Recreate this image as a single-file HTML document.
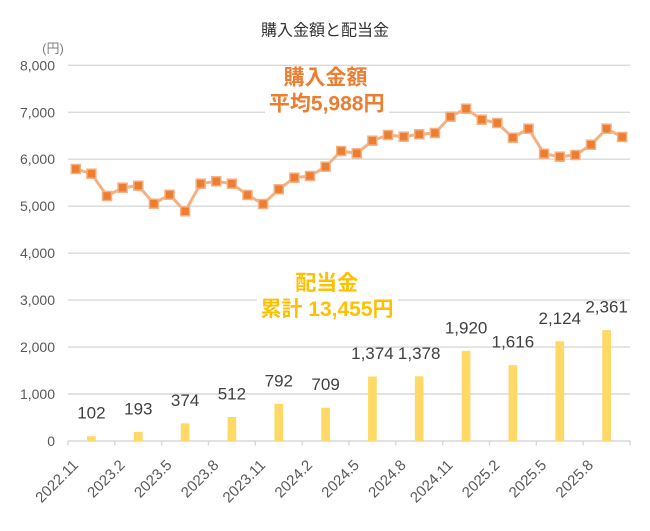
<!DOCTYPE html>
<html>
<head>
<meta charset="utf-8">
<style>
html,body{margin:0;padding:0;background:#fff;}
svg{display:block;}
text{font-family:"Liberation Sans","Noto Sans CJK JP",sans-serif;}
</style>
</head>
<body>
<svg width="650" height="531" viewBox="0 0 650 531" xmlns="http://www.w3.org/2000/svg">
<rect x="0" y="0" width="650" height="531" fill="#fff"/>

<!-- title -->
<text x="325" y="35.5" font-size="16" fill="#333" text-anchor="middle">購入金額と配当金</text>
<text x="53" y="53" font-size="13" fill="#7f7f7f" text-anchor="middle">(円)</text>

<!-- gridlines -->
<g stroke="#d9d9d9" stroke-width="1.4">
<line x1="68" y1="65.3" x2="630" y2="65.3"/>
<line x1="68" y1="112.3" x2="630" y2="112.3"/>
<line x1="68" y1="159.2" x2="630" y2="159.2"/>
<line x1="68" y1="206.2" x2="630" y2="206.2"/>
<line x1="68" y1="253.2" x2="630" y2="253.2"/>
<line x1="68" y1="300.1" x2="630" y2="300.1"/>
<line x1="68" y1="347.1" x2="630" y2="347.1"/>
<line x1="68" y1="394.0" x2="630" y2="394.0"/>
<line x1="68" y1="441" x2="630" y2="441"/>
</g>
<!-- ticks -->
<g stroke="#d9d9d9" stroke-width="1.4">
<line x1="68" y1="441" x2="68" y2="445.5"/>
<line x1="114.8" y1="441" x2="114.8" y2="445.5"/>
<line x1="161.7" y1="441" x2="161.7" y2="445.5"/>
<line x1="208.5" y1="441" x2="208.5" y2="445.5"/>
<line x1="255.3" y1="441" x2="255.3" y2="445.5"/>
<line x1="302.2" y1="441" x2="302.2" y2="445.5"/>
<line x1="349.0" y1="441" x2="349.0" y2="445.5"/>
<line x1="395.8" y1="441" x2="395.8" y2="445.5"/>
<line x1="442.7" y1="441" x2="442.7" y2="445.5"/>
<line x1="489.5" y1="441" x2="489.5" y2="445.5"/>
<line x1="536.3" y1="441" x2="536.3" y2="445.5"/>
<line x1="583.2" y1="441" x2="583.2" y2="445.5"/>
<line x1="630" y1="441" x2="630" y2="445.5"/>
</g>

<!-- y labels -->
<g font-size="14" fill="#595959" text-anchor="end">
<text x="55" y="70.3">8,000</text>
<text x="55" y="117.3">7,000</text>
<text x="55" y="164.2">6,000</text>
<text x="55" y="211.2">5,000</text>
<text x="55" y="258.2">4,000</text>
<text x="55" y="305.1">3,000</text>
<text x="55" y="352.1">2,000</text>
<text x="55" y="399.0">1,000</text>
<text x="55" y="446">0</text>
</g>

<!-- x labels -->
<g font-size="15" fill="#595959" text-anchor="end">
<text transform="translate(79,466) rotate(-45)">2022.11</text>
<text transform="translate(125.8,466) rotate(-45)">2023.2</text>
<text transform="translate(172.7,466) rotate(-45)">2023.5</text>
<text transform="translate(219.5,466) rotate(-45)">2023.8</text>
<text transform="translate(266.3,466) rotate(-45)">2023.11</text>
<text transform="translate(313.2,466) rotate(-45)">2024.2</text>
<text transform="translate(360,466) rotate(-45)">2024.5</text>
<text transform="translate(406.8,466) rotate(-45)">2024.8</text>
<text transform="translate(453.7,466) rotate(-45)">2024.11</text>
<text transform="translate(500.5,466) rotate(-45)">2025.2</text>
<text transform="translate(547.3,466) rotate(-45)">2025.5</text>
<text transform="translate(594.2,466) rotate(-45)">2025.8</text>
</g>

<!-- bars -->
<g fill="#FFD966">
<rect x="87.05" y="436.2" width="8.7" height="4.8"/>
<rect x="133.95" y="431.9" width="8.7" height="9.1"/>
<rect x="180.75" y="423.4" width="8.7" height="17.6"/>
<rect x="227.55" y="417.0" width="8.7" height="24.0"/>
<rect x="274.45" y="403.8" width="8.7" height="37.2"/>
<rect x="321.25" y="407.7" width="8.7" height="33.3"/>
<rect x="368.05" y="376.5" width="8.7" height="64.5"/>
<rect x="414.85" y="376.3" width="8.7" height="64.7"/>
<rect x="461.75" y="350.8" width="8.7" height="90.2"/>
<rect x="508.55" y="365.1" width="8.7" height="75.9"/>
<rect x="555.45" y="341.3" width="8.7" height="99.7"/>
<rect x="602.25" y="330.1" width="8.7" height="110.9"/>
</g>

<!-- bar labels -->
<g font-size="17" fill="#404040" text-anchor="middle">
<text x="91.4" y="418.7">102</text>
<text x="138.3" y="414.4">193</text>
<text x="185.1" y="405.9">374</text>
<text x="231.9" y="399.5">512</text>
<text x="278.8" y="386.3">792</text>
<text x="325.6" y="390.2">709</text>
<text x="372.4" y="359.0">1,374</text>
<text x="419.2" y="358.8">1,378</text>
<text x="466.1" y="333.3">1,920</text>
<text x="512.9" y="347.6">1,616</text>
<text x="559.8" y="323.8">2,124</text>
<text x="606.6" y="312.6">2,361</text>
</g>

<!-- line series -->
<polyline fill="none" stroke="#F4B183" stroke-width="3" stroke-linejoin="round" points="75.8,169 91.4,173.7 107.0,196 122.6,187.7 138.3,185.7 153.9,203.7 169.5,194.7 185.1,211.3 200.7,183.7 216.3,181.3 231.9,183.7 247.5,195 263.1,204 278.8,189.3 294.4,177.7 310.0,176 325.6,166.7 341.2,151 356.8,153.3 372.4,140.7 388.0,135 403.7,136.7 419.2,134.3 434.9,133 450.5,116.7 466.1,108.7 481.7,119.7 497.3,123 512.9,137.7 528.5,128.7 544.1,153.7 559.8,156.7 575.4,155 591.0,144.7 606.6,128.7 622.2,137"/>
<g fill="#ED7D31" stroke="#F4B183" stroke-width="1.5">
<rect x="71.3" y="164.5" width="9" height="9"/>
<rect x="86.9" y="169.2" width="9" height="9"/>
<rect x="102.5" y="191.5" width="9" height="9"/>
<rect x="118.1" y="183.2" width="9" height="9"/>
<rect x="133.8" y="181.2" width="9" height="9"/>
<rect x="149.4" y="199.2" width="9" height="9"/>
<rect x="165.0" y="190.2" width="9" height="9"/>
<rect x="180.6" y="206.8" width="9" height="9"/>
<rect x="196.2" y="179.2" width="9" height="9"/>
<rect x="211.8" y="176.8" width="9" height="9"/>
<rect x="227.4" y="179.2" width="9" height="9"/>
<rect x="243.0" y="190.5" width="9" height="9"/>
<rect x="258.6" y="199.5" width="9" height="9"/>
<rect x="274.3" y="184.8" width="9" height="9"/>
<rect x="289.9" y="173.2" width="9" height="9"/>
<rect x="305.5" y="171.5" width="9" height="9"/>
<rect x="321.1" y="162.2" width="9" height="9"/>
<rect x="336.7" y="146.5" width="9" height="9"/>
<rect x="352.3" y="148.8" width="9" height="9"/>
<rect x="367.9" y="136.2" width="9" height="9"/>
<rect x="383.5" y="130.5" width="9" height="9"/>
<rect x="399.2" y="132.2" width="9" height="9"/>
<rect x="414.7" y="129.8" width="9" height="9"/>
<rect x="430.4" y="128.5" width="9" height="9"/>
<rect x="446.0" y="112.2" width="9" height="9"/>
<rect x="461.6" y="104.2" width="9" height="9"/>
<rect x="477.2" y="115.2" width="9" height="9"/>
<rect x="492.8" y="118.5" width="9" height="9"/>
<rect x="508.4" y="133.2" width="9" height="9"/>
<rect x="524.0" y="124.2" width="9" height="9"/>
<rect x="539.6" y="149.2" width="9" height="9"/>
<rect x="555.3" y="152.2" width="9" height="9"/>
<rect x="570.9" y="150.5" width="9" height="9"/>
<rect x="586.5" y="140.2" width="9" height="9"/>
<rect x="602.1" y="124.2" width="9" height="9"/>
<rect x="617.7" y="132.5" width="9" height="9"/>
</g>

<!-- annotation: purchase -->
<rect x="265" y="67" width="124" height="49" fill="#fff"/>
<g font-size="21" font-weight="bold" fill="#ED7D31" text-anchor="middle">
<text x="325.5" y="84.5">購入金額</text>
<text x="326.7" y="110.5">平均5,988円</text>
</g>

<!-- annotation: dividends -->
<rect x="257" y="268" width="141" height="52" fill="#fff"/>
<g font-size="21" font-weight="bold" fill="#FFC000" text-anchor="middle">
<text x="326.7" y="290">配当金</text>
<text x="327" y="316">累計 13,455円</text>
</g>
</svg>
</body>
</html>
